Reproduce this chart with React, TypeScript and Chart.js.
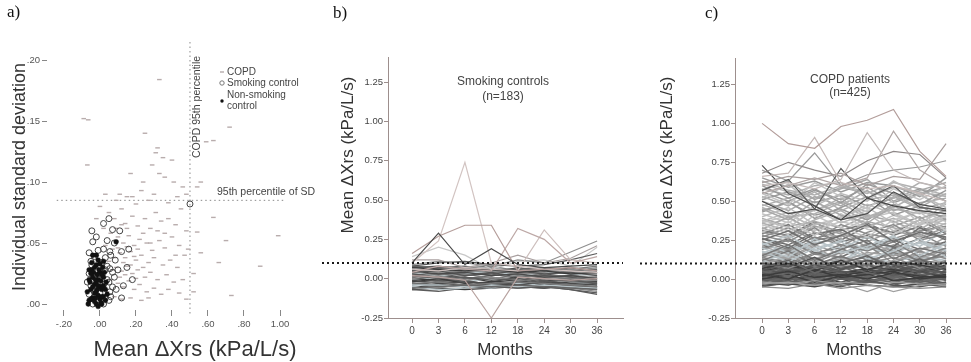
import React, { useEffect, useRef } from 'react';
import { Chart, registerables } from 'chart.js';
Chart.register(...registerables);

const SANS = '"Liberation Sans", Arial, Helvetica, sans-serif';
const SERIF = '"Liberation Serif", "Times New Roman", serif';
Chart.defaults.font.family = SANS;

// ---------------- Panel a (scatter) ----------------
const aXTicks = [-0.2, 0, 0.2, 0.4, 0.6, 0.8, 1.0];
const aYTicks = [0, 0.05, 0.1, 0.15, 0.2];
const copdMean95 = 0.5;
const sd95 = 0.085;

const copdPoints: [number, number][] = [
  [0.33, 0.184], [-0.065, 0.151], [-0.09, 0.152], [0.25, 0.14], [0.32, 0.128], [0.31, 0.124], [0.35, 0.12],
  [0.40, 0.118], [-0.07, 0.114], [0.29, 0.114], [0.17, 0.107], [0.24, 0.10], [0.33, 0.107], [0.36, 0.104],
  [0.23, 0.093], [0.46, 0.096], [0.15, 0.088], [0.18, 0.088],
  [0.59, 0.133], [0.72, 0.145], [0.63, 0.134], [0.54, 0.096], [0.63, 0.071], [0.54, 0.059], [0.70, 0.052],
  [0.99, 0.056], [0.66, 0.034], [0.89, 0.031], [0.52, 0.025], [0.73, 0.007], [0.52, 0.01], [0.56, 0.042], [0.56, 0.10],
  [0.05, 0.075], [0.08, 0.07], [0.12, 0.078], [0.14, 0.066], [0.18, 0.072], [0.21, 0.064], [0.25, 0.07],
  [0.28, 0.062], [0.31, 0.075], [0.34, 0.068], [0.38, 0.07], [0.42, 0.065], [0.45, 0.078], [0.48, 0.06],
  [0.06, 0.058], [0.10, 0.055], [0.13, 0.05], [0.16, 0.056], [0.19, 0.048], [0.22, 0.053], [0.26, 0.05],
  [0.29, 0.044], [0.33, 0.052], [0.36, 0.046], [0.40, 0.055], [0.44, 0.048], [0.47, 0.04],
  [0.07, 0.045], [0.11, 0.042], [0.14, 0.038], [0.17, 0.043], [0.20, 0.036], [0.23, 0.04], [0.27, 0.034],
  [0.30, 0.038], [0.35, 0.032], [0.39, 0.036], [0.43, 0.03], [0.49, 0.045],
  [0.05, 0.035], [0.09, 0.03], [0.12, 0.027], [0.15, 0.031], [0.18, 0.025], [0.21, 0.028], [0.25, 0.022],
  [0.28, 0.026], [0.32, 0.02], [0.37, 0.024], [0.41, 0.018], [0.46, 0.02],
  [0.06, 0.02], [0.10, 0.017], [0.13, 0.014], [0.16, 0.019], [0.19, 0.012], [0.22, 0.016], [0.26, 0.01],
  [0.30, 0.013], [0.34, 0.008], [0.38, 0.012], [0.44, 0.009],
  [0.04, 0.01], [0.08, 0.006], [0.12, 0.004], [0.17, 0.005], [0.23, 0.003], [0.27, 0.005], [0.48, 0.004],
  [0.09, 0.085], [0.11, 0.09], [0.20, 0.082], [0.27, 0.085], [0.30, 0.09], [0.38, 0.083], [0.43, 0.088],
  [0.48, 0.09], [0.41, 0.10], [0.02, 0.062], [0.03, 0.048], [0.15, 0.062], [0.24, 0.058], [0.32, 0.06],
  [0.36, 0.058], [0.28, 0.05], [0.42, 0.04], [-0.02, 0.07], [0.00, 0.08], [0.03, 0.09],
  [0.08, 0.038], [0.10, 0.046], [0.13, 0.034], [0.15, 0.047], [0.19, 0.039], [0.21, 0.045], [0.24, 0.03],
  [0.07, 0.028], [0.11, 0.022], [0.14, 0.024], [0.17, 0.032], [0.20, 0.021], [0.09, 0.062], [0.12, 0.065],
];

const smokingPoints: [number, number][] = [
  [0.02, 0.066], [-0.045, 0.06], [0.07, 0.061], [-0.04, 0.051], [0.04, 0.052], [-0.01, 0.044], [0.055, 0.043],
  [-0.03, 0.039], [0.03, 0.038], [0.085, 0.036], [0.12, 0.043], [-0.045, 0.032], [0.0, 0.03], [0.055, 0.029],
  [0.10, 0.028], [0.12, 0.005], [0.07, 0.014], [0.055, 0.01],
  [-0.06, 0.025], [-0.03, 0.022], [0.01, 0.024], [0.04, 0.02], [-0.05, 0.015], [-0.02, 0.014], [0.02, 0.016],
  [0.05, 0.018], [-0.06, 0.008], [-0.03, 0.006], [0.0, 0.009], [0.03, 0.005], [-0.04, 0.0], [-0.01, 0.002],
  [0.02, 0.0], [-0.05, 0.035], [0.01, 0.034], [0.06, 0.04], [0.08, 0.022], [0.09, 0.012], [-0.02, 0.028],
  [0.03, 0.028], [0.0, 0.018], [-0.07, 0.018], [0.06, 0.006],
  [0.15, 0.03], [0.18, 0.02], [0.08, 0.05], [0.11, 0.06], [0.05, 0.07], [0.13, 0.015], [-0.02, 0.055],
  [0.16, 0.045], [0.50, 0.082], [0.04, 0.031], [0.07, 0.026], [0.05, 0.003], [-0.06, 0.042], [0.02, 0.045],
];

const nonSmokingPoints: [number, number][] = [
  [0.09, 0.051], [-0.04, 0.005], [-0.02, 0.01], [0.0, 0.004], [-0.03, 0.016], [-0.01, 0.02], [0.01, 0.012],
  [-0.05, 0.012], [0.02, 0.006], [-0.02, 0.0], [0.0, 0.026], [-0.03, 0.03], [-0.01, 0.036], [0.02, 0.022],
  [-0.04, 0.022], [0.01, 0.0], [-0.06, 0.003], [0.03, 0.012], [-0.02, 0.018], [0.0, 0.014], [-0.01, 0.007],
  [-0.03, 0.009], [0.015, 0.03], [-0.045, 0.028], [0.04, 0.008], [-0.015, 0.024],
  [-0.07, 0.01], [-0.06, 0.02], [-0.05, 0.004], [-0.04, 0.014], [-0.035, 0.026], [-0.025, 0.005], [-0.02, 0.032],
  [-0.01, 0.015], [-0.005, 0.028], [0.005, 0.019], [0.01, 0.006], [0.02, 0.015], [0.025, 0.026], [0.03, 0.003],
  [-0.055, 0.018], [-0.045, 0.034], [-0.03, 0.002], [-0.015, 0.012], [0.0, 0.033], [-0.06, 0.028], [0.035, 0.018],
  [-0.02, 0.04], [-0.04, 0.04], [0.005, 0.001], [-0.065, 0.0], [-0.01, -0.002], [0.02, 0.035], [-0.05, 0.025],
  [-0.025, 0.02], [0.01, 0.024],
];

// ---------------- Panels b, c (spaghetti plots) ----------------
const months = ['0', '3', '6', '12', '18', '24', '30', '36'];
const bcYTicks = [-0.25, 0, 0.25, 0.5, 0.75, 1.0, 1.25];
const threshold = 0.1;

const smokingOutliers: number[][] = [
  [0.10, 0.29, 0.09, 0.19, 0.09, 0.07, 0.08, 0.09],
  [0.16, 0.27, 0.34, 0.34, 0.05, 0.06, 0.07, 0.05],
  [0.04, 0.08, 0.06, 0.05, 0.32, 0.25, 0.10, 0.14],
  [0.10, 0.24, 0.74, 0.10, 0.08, 0.06, 0.05, 0.04],
  [0.02, 0.01, -0.01, -0.25, 0.01, 0.00, -0.01, 0.00],
  [0.06, 0.05, 0.07, 0.06, 0.05, 0.31, 0.12, 0.10],
  [0.09, 0.11, 0.10, 0.08, 0.12, 0.10, 0.17, 0.24],
  [0.12, 0.12, 0.07, 0.10, 0.15, 0.10, 0.13, 0.21],
  [0.08, 0.10, 0.11, 0.09, 0.08, 0.09, 0.12, 0.16],
  [0.14, 0.20, 0.15, 0.06, 0.11, 0.12, 0.08, 0.20],
];
const smokingOutlierColors = ['#4a4a4a', '#b59e9b', '#bda8a6', '#d2c4c2', '#b8a3a0', '#cdbfbd', '#8f8f8f', '#a9a0a0', '#5a5a5a', '#c8c8c8'];

const smokingBand: number[][] = [
  [0.05, 0.03, 0.04, 0.02, 0.03, 0.01, 0.02, 0.00],
  [-0.06, -0.05, -0.04, -0.05, -0.04, -0.05, -0.06, -0.07],
  [0.02, 0.00, 0.01, -0.01, 0.00, -0.02, -0.01, -0.03],
  [-0.03, -0.02, -0.04, -0.03, -0.02, -0.03, -0.04, -0.05],
  [0.07, 0.06, 0.05, 0.06, 0.04, 0.05, 0.03, 0.04],
  [0.00, 0.02, -0.01, 0.01, -0.01, 0.00, -0.02, -0.01],
  [-0.05, -0.07, -0.06, -0.04, -0.05, -0.04, -0.05, -0.06],
  [0.04, 0.05, 0.02, 0.03, 0.05, 0.03, 0.04, 0.02],
  [-0.01, -0.03, -0.02, -0.03, -0.04, -0.02, -0.03, -0.04],
  [0.08, 0.07, 0.08, 0.05, 0.06, 0.07, 0.05, 0.06],
  [-0.07, -0.08, -0.06, -0.05, -0.06, -0.05, -0.07, -0.09],
  [0.01, 0.03, 0.03, 0.00, 0.02, 0.01, 0.00, 0.01],
  [-0.02, 0.00, -0.03, -0.02, -0.01, -0.04, -0.02, -0.02],
  [0.06, 0.04, 0.06, 0.07, 0.03, 0.04, 0.06, 0.03],
  [-0.04, -0.04, -0.05, -0.06, -0.03, -0.04, -0.03, -0.04],
  [0.03, 0.01, 0.02, 0.04, 0.01, 0.02, 0.01, -0.01],
  [-0.06, -0.03, -0.04, -0.04, -0.05, -0.06, -0.05, -0.05],
  [0.02, 0.04, 0.00, 0.02, 0.03, 0.00, 0.02, 0.00],
  [-0.02, -0.01, -0.01, -0.04, -0.03, -0.01, -0.04, -0.06],
  [0.05, 0.06, 0.07, 0.04, 0.05, 0.06, 0.04, 0.05],
  [0.00, -0.01, 0.01, -0.02, 0.01, -0.01, -0.01, -0.02],
  [-0.05, -0.06, -0.03, -0.05, -0.06, -0.03, -0.06, -0.08],
  [0.04, 0.02, 0.03, 0.05, 0.02, 0.04, 0.03, 0.02],
  [-0.03, -0.05, -0.05, -0.02, -0.03, -0.05, -0.04, -0.03],
  [0.07, 0.08, 0.06, 0.04, 0.07, 0.05, 0.07, 0.05],
  [0.01, -0.02, 0.00, 0.01, -0.02, 0.01, 0.00, -0.01],
  [-0.04, -0.02, -0.02, -0.03, -0.04, -0.02, -0.05, -0.07],
  [0.03, 0.03, 0.05, 0.02, 0.04, 0.02, 0.02, 0.03],
  [-0.07, -0.06, -0.07, -0.06, -0.05, -0.06, -0.04, -0.05],
  [0.06, 0.05, 0.04, 0.06, 0.06, 0.03, 0.05, 0.07],
  [-0.01, 0.01, -0.02, 0.00, -0.01, -0.03, -0.02, -0.03],
  [0.02, 0.01, 0.04, 0.03, 0.00, 0.03, 0.01, 0.01],
  [-0.03, -0.04, -0.01, -0.05, -0.02, -0.04, -0.06, -0.06],
  [0.05, 0.07, 0.03, 0.05, 0.04, 0.06, 0.03, 0.04],
  [-0.06, -0.04, -0.05, -0.03, -0.06, -0.05, -0.07, -0.10],
  [0.08, 0.06, 0.07, 0.08, 0.05, 0.07, 0.06, 0.08],
];

const copdOutliers: number[][] = [
  [1.00, 0.87, 0.84, 0.98, 1.02, 1.09, 0.82, 0.66],
  [0.66, 0.68, 0.91, 0.62, 0.58, 0.60, 0.55, 0.50],
  [0.60, 0.62, 0.58, 0.64, 0.94, 0.70, 0.62, 0.58],
  [0.55, 0.60, 0.65, 0.60, 0.65, 0.95, 0.70, 0.60],
  [0.62, 0.66, 0.64, 0.68, 0.60, 0.66, 0.64, 0.87],
  [0.68, 0.75, 0.70, 0.66, 0.76, 0.82, 0.80, 0.65],
  [0.73, 0.55, 0.47, 0.38, 0.42, 0.56, 0.48, 0.45],
  [0.57, 0.64, 0.45, 0.71, 0.52, 0.60, 0.46, 0.44],
  [0.50, 0.42, 0.45, 0.38, 0.52, 0.47, 0.44, 0.42],
  [0.70, 0.63, 0.81, 0.60, 0.67, 0.70, 0.72, 0.76],
  [-0.02, -0.03, -0.01, -0.03, -0.08, -0.02, -0.03, -0.04],
  [-0.03, -0.02, -0.04, -0.02, -0.03, -0.08, -0.04, -0.03],
  [-0.05, -0.06, -0.03, -0.06, -0.04, -0.05, -0.06, -0.05],
];
const copdOutlierColors = ['#b39d9a', '#c4b8b6', '#c2b9b8', '#b0a6a5', '#a89e9d', '#8e8888', '#4e4e4e', '#5a5a5a', '#444444', '#9a9a9a', '#9c9c9c', '#a0a0a0', '#8a8a8a'];

const copdBand: number[][] = [
  [0.02, 0.05, 0.01, 0.03, 0.00, 0.04, 0.02, 0.01],
  [0.10, 0.08, 0.14, 0.06, 0.12, 0.09, 0.05, 0.11],
  [0.25, 0.31, 0.22, 0.28, 0.35, 0.24, 0.30, 0.27],
  [0.45, 0.38, 0.50, 0.41, 0.36, 0.47, 0.39, 0.44],
  [-0.03, -0.01, -0.04, 0.00, -0.02, -0.03, -0.01, -0.04],
  [0.60, 0.52, 0.58, 0.49, 0.61, 0.55, 0.48, 0.57],
  [0.15, 0.22, 0.12, 0.19, 0.25, 0.13, 0.20, 0.16],
  [0.35, 0.29, 0.41, 0.33, 0.27, 0.38, 0.43, 0.31],
  [0.05, 0.02, 0.07, 0.09, 0.04, 0.01, 0.06, 0.08],
  [0.52, 0.61, 0.47, 0.55, 0.50, 0.63, 0.54, 0.46],
  [0.20, 0.14, 0.26, 0.17, 0.21, 0.28, 0.15, 0.23],
  [-0.05, -0.02, -0.03, -0.05, -0.01, -0.04, -0.05, -0.02],
  [0.30, 0.37, 0.28, 0.42, 0.32, 0.29, 0.36, 0.40],
  [0.08, 0.12, 0.04, 0.10, 0.15, 0.07, 0.13, 0.05],
  [0.40, 0.46, 0.35, 0.39, 0.48, 0.42, 0.34, 0.50],
  [0.00, 0.03, -0.02, 0.02, 0.05, -0.01, 0.01, 0.03],
  [0.18, 0.11, 0.20, 0.24, 0.13, 0.18, 0.26, 0.14],
  [0.55, 0.48, 0.62, 0.53, 0.45, 0.58, 0.51, 0.60],
  [0.12, 0.18, 0.09, 0.15, 0.08, 0.20, 0.11, 0.17],
  [0.28, 0.24, 0.33, 0.21, 0.30, 0.35, 0.25, 0.29],
  [0.03, 0.00, 0.06, 0.01, 0.03, 0.05, 0.00, 0.02],
  [0.48, 0.42, 0.44, 0.52, 0.40, 0.46, 0.55, 0.43],
  [0.22, 0.28, 0.18, 0.25, 0.19, 0.27, 0.21, 0.32],
  [-0.02, 0.01, 0.00, -0.03, 0.02, 0.00, -0.02, 0.01],
  [0.38, 0.33, 0.45, 0.36, 0.42, 0.31, 0.38, 0.35],
  [0.07, 0.10, 0.05, 0.12, 0.06, 0.11, 0.09, 0.06],
  [0.63, 0.57, 0.54, 0.60, 0.56, 0.52, 0.62, 0.58],
  [0.16, 0.13, 0.21, 0.11, 0.17, 0.15, 0.19, 0.22],
  [0.32, 0.40, 0.30, 0.27, 0.37, 0.33, 0.28, 0.36],
  [0.01, -0.02, 0.02, 0.04, -0.01, 0.02, 0.03, -0.01],
  [0.43, 0.50, 0.39, 0.46, 0.53, 0.41, 0.47, 0.38],
  [0.11, 0.07, 0.13, 0.08, 0.10, 0.14, 0.07, 0.12],
  [0.26, 0.20, 0.29, 0.32, 0.23, 0.21, 0.33, 0.25],
  [0.57, 0.63, 0.51, 0.58, 0.64, 0.50, 0.57, 0.62],
  [0.04, 0.08, 0.03, 0.06, 0.09, 0.04, 0.07, 0.03],
  [0.19, 0.25, 0.16, 0.22, 0.18, 0.24, 0.14, 0.20],
  [0.36, 0.31, 0.38, 0.44, 0.34, 0.39, 0.32, 0.41],
  [-0.04, -0.03, -0.05, -0.02, -0.04, -0.05, -0.03, -0.05],
  [0.50, 0.44, 0.53, 0.47, 0.57, 0.44, 0.49, 0.52],
  [0.09, 0.15, 0.10, 0.13, 0.07, 0.12, 0.16, 0.09],
  [0.23, 0.17, 0.24, 0.20, 0.27, 0.19, 0.23, 0.18],
  [0.06, 0.04, 0.09, 0.05, 0.02, 0.08, 0.04, 0.07],
  [0.42, 0.36, 0.47, 0.38, 0.44, 0.50, 0.36, 0.45],
  [0.14, 0.19, 0.11, 0.17, 0.22, 0.10, 0.18, 0.13],
  [0.02, -0.01, 0.04, 0.00, 0.01, 0.03, -0.02, 0.00],
  [0.33, 0.27, 0.36, 0.30, 0.26, 0.34, 0.40, 0.30],
  [0.58, 0.54, 0.60, 0.62, 0.52, 0.59, 0.56, 0.53],
  [0.13, 0.09, 0.16, 0.14, 0.11, 0.17, 0.12, 0.15],
  [-0.01, 0.02, -0.03, 0.01, -0.02, 0.01, 0.02, -0.03],
  [0.27, 0.33, 0.25, 0.35, 0.29, 0.26, 0.31, 0.34],
  [0.05, 0.08, 0.06, 0.03, 0.07, 0.06, 0.04, 0.09],
  [0.46, 0.40, 0.42, 0.49, 0.39, 0.45, 0.42, 0.48],
  [0.17, 0.21, 0.19, 0.12, 0.20, 0.16, 0.24, 0.19],
  [0.00, 0.01, -0.01, 0.02, 0.00, -0.02, 0.01, 0.00],
  [0.08, 0.06, 0.11, 0.07, 0.09, 0.05, 0.10, 0.08],
  [0.65, 0.59, 0.63, 0.56, 0.62, 0.60, 0.53, 0.65],
  [0.03, 0.06, 0.02, 0.05, 0.04, 0.07, 0.03, 0.05],
  [0.21, 0.16, 0.23, 0.26, 0.15, 0.22, 0.18, 0.27],
  [-0.03, 0.00, -0.01, -0.04, -0.02, 0.00, -0.03, -0.02],
  [0.37, 0.43, 0.32, 0.40, 0.46, 0.36, 0.44, 0.37],
  [0.10, 0.13, 0.08, 0.11, 0.14, 0.09, 0.12, 0.10],
  [0.53, 0.47, 0.56, 0.44, 0.51, 0.54, 0.46, 0.55],
  [0.04, 0.01, 0.05, 0.02, 0.06, 0.03, 0.05, 0.01],
  [0.30, 0.26, 0.34, 0.29, 0.24, 0.31, 0.27, 0.33],
  [0.12, 0.16, 0.10, 0.18, 0.13, 0.11, 0.15, 0.12],
  [0.24, 0.19, 0.27, 0.22, 0.20, 0.25, 0.29, 0.21],
  [0.06, 0.09, 0.03, 0.07, 0.10, 0.05, 0.08, 0.04],
  [0.34, 0.39, 0.31, 0.37, 0.33, 0.41, 0.35, 0.38],
  [0.01, 0.04, 0.00, 0.03, 0.01, 0.02, 0.05, 0.02],
  [0.17, 0.14, 0.22, 0.16, 0.23, 0.18, 0.13, 0.19],
  [0.44, 0.49, 0.41, 0.45, 0.38, 0.48, 0.43, 0.40],
  [0.09, 0.05, 0.08, 0.12, 0.06, 0.10, 0.07, 0.11],
  [0.29, 0.35, 0.26, 0.31, 0.36, 0.28, 0.34, 0.26],
  [-0.02, -0.04, 0.01, -0.03, -0.01, -0.04, 0.00, -0.03],
  [0.20, 0.26, 0.17, 0.14, 0.22, 0.25, 0.19, 0.24],
  [0.51, 0.56, 0.49, 0.54, 0.47, 0.52, 0.58, 0.50],
  [0.05, 0.03, 0.08, 0.04, 0.07, 0.02, 0.06, 0.04],
  [0.14, 0.10, 0.17, 0.20, 0.12, 0.16, 0.10, 0.18],
  [0.39, 0.34, 0.37, 0.33, 0.41, 0.37, 0.30, 0.39],
  [0.02, 0.06, 0.03, 0.00, 0.04, 0.06, 0.02, 0.05],
  [0.26, 0.22, 0.30, 0.24, 0.28, 0.20, 0.26, 0.31],
  [0.61, 0.56, 0.52, 0.59, 0.55, 0.62, 0.58, 0.54],
  [0.11, 0.14, 0.07, 0.13, 0.16, 0.08, 0.14, 0.11],
  [0.07, 0.03, 0.10, 0.05, 0.03, 0.09, 0.05, 0.08],
  [0.31, 0.28, 0.37, 0.25, 0.34, 0.30, 0.38, 0.29],
  [-0.01, 0.00, 0.02, -0.02, 0.03, -0.01, 0.00, 0.02],
  [0.47, 0.52, 0.44, 0.50, 0.43, 0.53, 0.45, 0.49],
  [0.16, 0.20, 0.13, 0.19, 0.15, 0.21, 0.17, 0.14],
  [0.03, 0.07, 0.04, 0.08, 0.02, 0.05, 0.09, 0.06],
  [0.22, 0.18, 0.25, 0.28, 0.21, 0.17, 0.24, 0.22],
  [0.56, 0.50, 0.57, 0.51, 0.59, 0.49, 0.55, 0.59],
  [0.08, 0.11, 0.06, 0.09, 0.12, 0.07, 0.11, 0.07],
  [0.36, 0.41, 0.34, 0.31, 0.39, 0.43, 0.35, 0.42],
  [0.00, -0.03, 0.01, 0.03, -0.02, 0.01, -0.01, 0.02],
];

// ---------------- helpers ----------------
const darkPal = ['#3c3c3c', '#555555', '#4a4a4a', '#666666', '#5e5e5e'];
const midPal = ['#777777', '#8c8c8c', '#6e6e6e', '#a0a0a0', '#b9c3c7', '#828282'];
const lightPal = ['#9a9a9a', '#b0b0b0', '#c4c4c4', '#a8a8a8', '#bcbcbc'];
const bandColor = (vals: number[], i: number) => {
  const m = vals.reduce((a, b) => a + b, 0) / vals.length;
  if (m < 0.1) return darkPal[i % darkPal.length];
  if (m < 0.32) return midPal[i % midPal.length];
  return lightPal[i % lightPal.length];
};
const smokingBandPal = ['#4a4a4a', '#666666', '#5a5a5a', '#7a7a7a', '#3c3c3c', '#8a8a8a', '#b8c4c8', '#555555'];

const fmtA = (v: number) => {
  const s = Math.abs(v).toFixed(2);
  const t = s.startsWith('0') ? s.slice(1) : s;
  return (v < 0 ? '-' : '') + t;
};

function text(ctx: CanvasRenderingContext2D, s: string, x: number, y: number, font: string, color: string, align: CanvasTextAlign = 'center', rot = 0) {
  ctx.save();
  ctx.font = font;
  ctx.fillStyle = color;
  ctx.textAlign = align;
  ctx.textBaseline = 'middle';
  ctx.translate(x, y);
  if (rot) ctx.rotate(rot);
  ctx.fillText(s, 0, 0);
  ctx.restore();
}

function makeScatterConfig(): any {
  const toXY = (arr: [number, number][]) => arr.map(([x, y]) => ({ x, y }));
  const plugin = {
    id: 'annA',
    beforeDatasetsDraw(chart: any) {
      const { ctx, scales, chartArea } = chart;
      const x = scales.x, y = scales.y;
      ctx.save();
      ctx.setLineDash([1.5, 3]);
      ctx.strokeStyle = '#8a8a8a';
      ctx.lineWidth = 1;
      const vx = x.getPixelForValue(copdMean95);
      ctx.beginPath(); ctx.moveTo(vx, chartArea.top); ctx.lineTo(vx, chartArea.bottom + 6); ctx.stroke();
      const hy = y.getPixelForValue(sd95);
      ctx.beginPath(); ctx.moveTo(x.getPixelForValue(-0.24), hy); ctx.lineTo(x.getPixelForValue(1.02), hy); ctx.stroke();
      ctx.restore();
    },
    afterDraw(chart: any) {
      const ctx = chart.ctx as CanvasRenderingContext2D;
      text(ctx, 'a)', 7, 13, `17px ${SERIF}`, '#111', 'left');
      text(ctx, 'Individual standard deviation', 20, 177, `18px ${SANS}`, '#333', 'center', -Math.PI / 2);
      text(ctx, 'Mean ΔXrs (kPa/L/s)', 195, 350, `22px ${SANS}`, '#333');
      text(ctx, 'COPD 95th percentile', 197, 107, `10.5px ${SANS}`, '#444', 'center', -Math.PI / 2);
      text(ctx, '95th percentile of SD', 217, 192, `10.5px ${SANS}`, '#444', 'left');
      ctx.save();
      ctx.strokeStyle = '#a89c9c'; ctx.lineWidth = 1.2;
      ctx.beginPath(); ctx.moveTo(220, 72); ctx.lineTo(224, 72); ctx.stroke();
      ctx.strokeStyle = '#777'; ctx.lineWidth = 1;
      ctx.beginPath(); ctx.arc(222, 83, 2.2, 0, Math.PI * 2); ctx.stroke();
      ctx.fillStyle = '#111';
      ctx.beginPath(); ctx.arc(222, 101, 1.7, 0, Math.PI * 2); ctx.fill();
      ctx.restore();
      text(ctx, 'COPD', 227, 72, `10px ${SANS}`, '#444', 'left');
      text(ctx, 'Smoking control', 227, 83, `10px ${SANS}`, '#444', 'left');
      text(ctx, 'Non-smoking', 227, 95, `10px ${SANS}`, '#444', 'left');
      text(ctx, 'control', 227, 106, `10px ${SANS}`, '#444', 'left');
    },
  };
  return {
    type: 'scatter',
    data: {
      datasets: [
        { label: 'Non-smoking control', data: toXY(nonSmokingPoints), pointStyle: 'circle', pointRadius: 2.4, backgroundColor: '#111', borderColor: '#111', borderWidth: 0.5 },
        { label: 'Smoking control', data: toXY(smokingPoints), pointStyle: 'circle', pointRadius: 3, backgroundColor: 'rgba(0,0,0,0)', borderColor: '#444', borderWidth: 1 },
        { label: 'COPD', data: toXY(copdPoints), pointStyle: 'line', pointRadius: 2.3, borderColor: '#b8acac', borderWidth: 1.4 },
      ],
    },
    options: {
      responsive: false,
      animation: false,
      events: [],
      layout: { padding: { top: 42, right: 20, left: 0, bottom: 0 } },
      plugins: { legend: { display: false }, tooltip: { enabled: false } },
      scales: {
        x: {
          type: 'linear', min: -0.294, max: 1.111, bounds: 'data',
          afterBuildTicks: (s: any) => { s.ticks = aXTicks.map((v) => ({ value: v })); },
          afterFit: (s: any) => { s.height = 52; s.paddingLeft = 0; s.paddingRight = 0; },
          grid: { drawOnChartArea: false, drawTicks: true, tickLength: 6, color: '#888' },
          border: { display: false },
          ticks: { callback: (v: any) => fmtA(Number(v)), font: { size: 9.5, family: SANS }, color: '#555', padding: 3, maxRotation: 0, autoSkip: false },
        },
        y: {
          type: 'linear', min: -0.0049, max: 0.2148, bounds: 'data',
          afterBuildTicks: (s: any) => { s.ticks = aYTicks.map((v) => ({ value: v })); },
          afterFit: (s: any) => { s.width = 47; s.paddingTop = 0; s.paddingBottom = 0; },
          grid: { drawOnChartArea: false, drawTicks: true, tickLength: 5, color: '#888' },
          border: { display: false },
          ticks: { callback: (v: any) => fmtA(Number(v)), font: { size: 9.5, family: SANS }, color: '#555', padding: 2, autoSkip: false },
        },
      },
    },
    plugins: [plugin],
  };
}

interface LinePanel {
  outliers: number[][];
  outlierColors: string[];
  band: number[][];
  bandColorFn: (v: number[], i: number) => string;
  bandWidth: number;
  padTop: number;
  padRight: number;
  yWidth: number;
  xMin: number;
  xMax: number;
  yMax: number;
  label: string;
  labelX: number;
  yTitleX: number;
  monthsX: number;
  titleX: number;
  title1: string;
  title2: string;
  title1Y: number;
  title2Y: number;
  dotStart: number;
  dotEnd: number | null;
}

function makeLineConfig(p: LinePanel): any {
  const AX = '#9d8f8d';
  const toXY = (vals: number[]) => vals.map((v, i) => ({ x: i, y: v }));
  const datasets: any[] = [];
  p.outliers.forEach((vals, i) => datasets.push({ data: toXY(vals), borderColor: p.outlierColors[i], borderWidth: 1.2 }));
  p.band.forEach((vals, i) => datasets.push({ data: toXY(vals), borderColor: p.bandColorFn(vals, i), borderWidth: p.bandWidth }));
  const plugin = {
    id: 'annLine',
    afterDatasetsDraw(chart: any) {
      const { ctx, scales, chartArea } = chart;
      const yy = scales.y.getPixelForValue(threshold);
      ctx.save();
      ctx.setLineDash([2, 3]);
      ctx.strokeStyle = '#1a1a1a';
      ctx.lineWidth = 2;
      ctx.beginPath();
      ctx.moveTo(p.dotStart, yy);
      ctx.lineTo(p.dotEnd === null ? chartArea.right : p.dotEnd, yy);
      ctx.stroke();
      ctx.restore();
    },
    afterDraw(chart: any) {
      const ctx = chart.ctx as CanvasRenderingContext2D;
      text(ctx, p.label, p.labelX, 14, `17px ${SERIF}`, '#111', 'left');
      text(ctx, 'Mean ΔXrs (kPa/L/s)', p.yTitleX, 155, `17px ${SANS}`, '#333', 'center', -Math.PI / 2);
      text(ctx, 'Months', p.monthsX, 350, `17px ${SANS}`, '#333');
      text(ctx, p.title1, p.titleX, p.title1Y, `12px ${SANS}`, '#444');
      text(ctx, p.title2, p.titleX, p.title2Y, `12px ${SANS}`, '#444');
    },
  };
  return {
    type: 'line',
    data: { datasets },
    options: {
      responsive: false,
      animation: false,
      events: [],
      layout: { padding: { top: p.padTop, right: p.padRight, left: 0, bottom: 0 } },
      elements: { point: { radius: 0 }, line: { tension: 0 } },
      plugins: { legend: { display: false }, tooltip: { enabled: false } },
      scales: {
        x: {
          type: 'linear', min: p.xMin, max: p.xMax, bounds: 'data',
          afterBuildTicks: (s: any) => { s.ticks = months.map((_, i) => ({ value: i })); },
          afterFit: (s: any) => { s.height = 44; s.paddingLeft = 0; s.paddingRight = 0; },
          grid: { drawOnChartArea: false, drawTicks: true, tickLength: 5, color: AX },
          border: { display: true, color: AX, width: 1 },
          ticks: { callback: (v: any) => months[Number(v)], font: { size: 10, family: SANS }, color: '#444', padding: 2, maxRotation: 0, autoSkip: false },
        },
        y: {
          type: 'linear', min: -0.25, max: p.yMax, bounds: 'data',
          afterBuildTicks: (s: any) => { s.ticks = bcYTicks.map((v) => ({ value: v })); },
          afterFit: (s: any) => { s.width = p.yWidth; s.paddingTop = 0; s.paddingBottom = 0; },
          grid: { drawOnChartArea: false, drawTicks: true, tickLength: 4, color: AX },
          border: { display: true, color: AX, width: 1 },
          ticks: { callback: (v: any) => Number(v).toFixed(2), font: { size: 9.5, family: SANS }, color: '#444', padding: 1, autoSkip: false },
        },
      },
    },
    plugins: [plugin],
  };
}

export default function App() {
  const refA = useRef<HTMLCanvasElement>(null);
  const refB = useRef<HTMLCanvasElement>(null);
  const refC = useRef<HTMLCanvasElement>(null);

  useEffect(() => {
    const charts: Chart[] = [];
    if (refA.current) charts.push(new Chart(refA.current, makeScatterConfig()));
    if (refB.current)
      charts.push(new Chart(refB.current, makeLineConfig({
        outliers: smokingOutliers, outlierColors: smokingOutlierColors, band: smokingBand,
        bandColorFn: (_v, i) => smokingBandPal[i % smokingBandPal.length], bandWidth: 1.3,
        padTop: 57, padRight: 17, yWidth: 68, xMin: -0.91, xMax: 7.98, yMax: 1.41,
        label: 'b)', labelX: 13, yTitleX: 28, monthsX: 185, titleX: 183,
        title1: 'Smoking controls', title2: '(n=183)', title1Y: 82, title2Y: 97,
        dotStart: 2, dotEnd: null,
      })));
    if (refC.current)
      charts.push(new Chart(refC.current, makeLineConfig({
        outliers: copdOutliers, outlierColors: copdOutlierColors, band: copdBand,
        bandColorFn: bandColor, bandWidth: 1.5,
        padTop: 58, padRight: 1, yWidth: 95, xMin: -1.03, xMax: 7.91, yMax: 1.42,
        label: 'c)', labelX: 65, yTitleX: 27, monthsX: 214, titleX: 210,
        title1: 'COPD patients', title2: '(n=425)', title1Y: 80, title2Y: 93,
        dotStart: 0, dotEnd: 331,
      })));
    return () => charts.forEach((c) => c.destroy());
  }, []);

  return (
    <div style={{ position: 'fixed', left: 0, top: 0, width: 971, height: 362, background: '#fff' }}>
      <canvas ref={refA} width={320} height={362} style={{ position: 'absolute', left: 0, top: 0, width: 320, height: 362 }} />
      <canvas ref={refB} width={320} height={362} style={{ position: 'absolute', left: 320, top: 0, width: 320, height: 362 }} />
      <canvas ref={refC} width={331} height={362} style={{ position: 'absolute', left: 640, top: 0, width: 331, height: 362 }} />
    </div>
  );
}
